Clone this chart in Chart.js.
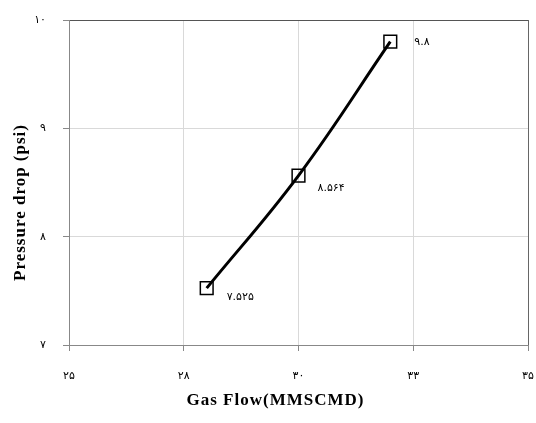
<!DOCTYPE html>
<html>
<head>
<meta charset="utf-8">
<script src="https://cdn.jsdelivr.net/npm/chart.js@4"></script>
<style>
  html, body { margin: 0; padding: 0; background: #fff; }
  #wrap { width: 536px; height: 423px; }
</style>
</head>
<body>
<div id="wrap"><canvas id="chart1" width="536" height="423"></canvas></div>
<script>
const gasFlow = [28, 30, 32];
const pressureDrop = [7.525, 8.564, 9.8];
const pointLabels = ["۷.۵۲۵", "۸.۵۶۴", "۹.۸"];
const xTickLabels = ["۲۵", "۲۸", "۳۰", "۳۳", "۳۵"];
const yTickLabels = ["۷", "۸", "۹", "۱۰"];

const ctx = document.getElementById("chart1");

// Excel-like spaced lettering for axis text, off again for the plot
const spacing = {
  id: "spacing",
  beforeDraw(chart) { chart.ctx.letterSpacing = "1px"; },
  beforeDatasetsDraw(chart) { chart.ctx.letterSpacing = "0px"; },
};

// axis titles in the original sit off-centre; nudge them
const titleShift = {
  id: "titleShift",
  afterLayout(chart) {
    const shifts = { x: [-23, 0], y: [0, 20] };
    Object.keys(shifts).forEach((id) => {
      const s = chart.scales[id];
      if (s._shifted) return;
      const orig = s.drawTitle;
      s.drawTitle = function () {
        this.ctx.save();
        this.ctx.translate(shifts[id][0], shifts[id][1]);
        orig.call(this);
        this.ctx.restore();
      };
      s._shifted = true;
    });
  },
};

const labelPlugin = {
  id: "pointLabels",
  afterDatasetsDraw(chart) {
    const meta = chart.getDatasetMeta(0);
    const c = chart.ctx;
    c.save();
    c.font = "11px 'DejaVu Sans'";
    c.fillStyle = "#000";
    c.textAlign = "left";
    c.textBaseline = "middle";
    const offs = [[20, 9], [19, 13], [24, 0]];
    meta.data.forEach((pt, i) => {
      c.fillText(pointLabels[i], pt.x + offs[i][0], pt.y + offs[i][1]);
    });
    c.restore();
  },
};

const config = {
  type: "line",
  data: {
    datasets: [
      {
        data: gasFlow.map((x, i) => ({ x: x, y: pressureDrop[i] })),
        borderColor: "#000",
        borderWidth: 3,
        tension: 0.4,
        pointStyle: "rect",
        pointRadius: 9,
        pointBorderWidth: 1.5,
        pointBorderColor: "#000",
        pointBackgroundColor: "transparent",
      },
    ],
  },
  options: {
    responsive: false,
    animation: false,
    layout: { autoPadding: false, padding: { top: 20, right: 8, left: 0, bottom: 0 } },
    plugins: {
      legend: { display: false },
      tooltip: { enabled: false },
    },
    scales: {
      x: {
        type: "linear",
        min: 25,
        max: 35,
        afterBuildTicks: (s) => {
          s.ticks = [25, 27.5, 30, 32.5, 35].map((v) => ({ value: v }));
        },
        afterFit: (s) => {
          s.height = 78;
          s.paddingLeft = 0;
          s.paddingRight = 0;
        },
        ticks: {
          callback: (v, i) => xTickLabels[i],
          font: { family: "DejaVu Sans", size: 11 },
          color: "#000",
          padding: 19,
          maxRotation: 0,
        },
        grid: {
          color: (c) => (c.index === 4 ? "#666" : "#d9d9d9"),
          tickColor: "#888",
          tickLength: 6,
        },
        border: { color: "#888", width: 1 },
        title: {
          display: true,
          text: "Gas Flow(MMSCMD)",
          font: { family: "Liberation Serif", size: 17, weight: "bold" },
          color: "#000",
          padding: { top: 0, bottom: 12 },
        },
      },
      y: {
        min: 7,
        max: 10,
        afterFit: (s) => {
          s.width = 69;
          s.paddingTop = 0;
          s.paddingBottom = 0;
        },
        ticks: {
          stepSize: 1,
          callback: (v, i) => yTickLabels[i],
          font: { family: "DejaVu Sans", size: 11 },
          color: "#000",
          padding: 17,
        },
        grid: {
          color: (c) => (c.index === 3 ? "#555" : "#d9d9d9"),
          tickColor: "#888",
          tickLength: 6,
        },
        border: { color: "#888", width: 1 },
        title: {
          display: true,
          text: "Pressure drop (psi)",
          font: { family: "Liberation Serif", size: 17, weight: "bold" },
          color: "#000",
          padding: { top: 10, bottom: 0 },
        },
      },
    },
  },
  plugins: [spacing, titleShift, labelPlugin],
};
new Chart(ctx, config);
</script>
</body>
</html>
